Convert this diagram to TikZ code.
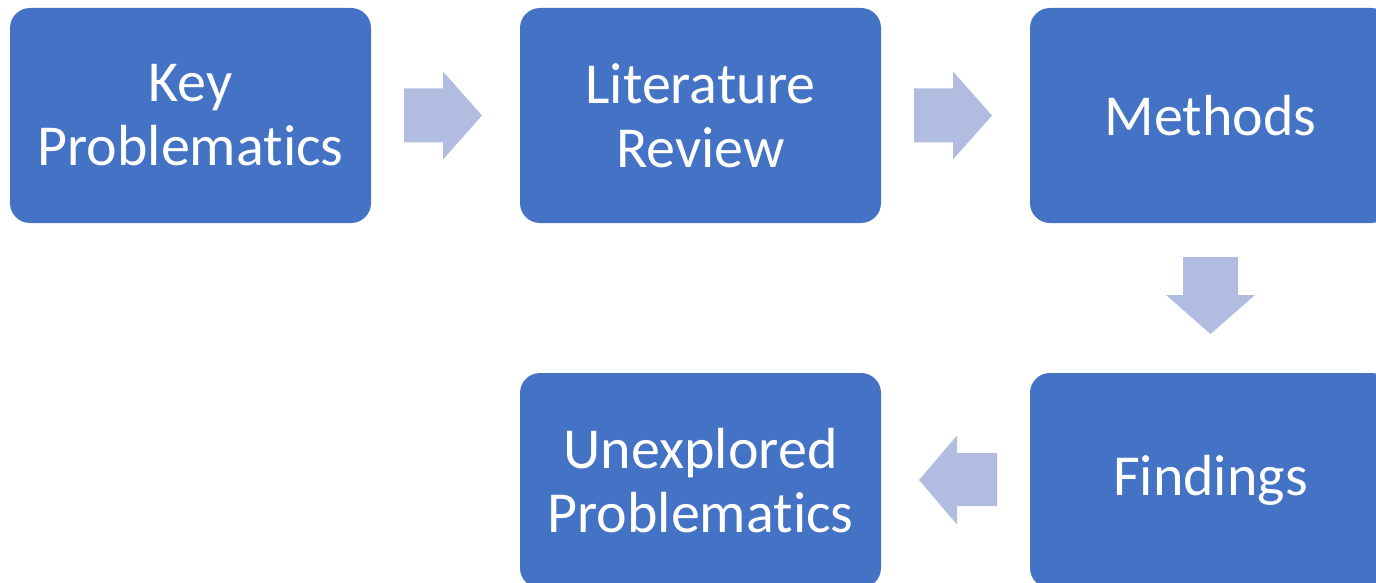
\documentclass[tikz,border=0pt]{standalone}
\usepackage{fontspec}
\setmainfont{Carlito}[Ligatures=NoCommon]
\definecolor{boxblue}{HTML}{4472C4}
\definecolor{arrowblue}{HTML}{B0BDE0}
\begin{document}
\begin{tikzpicture}[x=1pt,y=-1pt,
  stepbox/.style={fill=boxblue, draw=none, rounded corners=20pt, minimum width=361pt, minimum height=215pt,
    text=white, align=center, inner sep=0pt,
    font=\fontsize{58}{64}\selectfont},
  blockarrow/.style={fill=arrowblue, draw=none}]
\useasboundingbox (0,0) rectangle (1376,583);
\clip (0,0) rectangle (1376,583);
\node[stepbox] (key) at (190.5,115.5) {Key\\Problematics};
\node[stepbox] (lit) at (700.5,115.5) {Literature\\Review};
\node[stepbox] (meth) at (1210.5,115.5) {Methods};
\node[stepbox] (find) at (1210.5,480.5) {Findings};
\node[stepbox] (unex) at (700.5,480.5) {Unexplored\\Problematics};
% block arrows
\fill[blockarrow] (404,88.5) -- (443,88.5) -- (443,71.5) -- (482,115.5) -- (443,159.5) -- (443,142.5) -- (404,142.5) -- cycle;
\fill[blockarrow] (914,88.5) -- (953,88.5) -- (953,71.5) -- (992,115.5) -- (953,159.5) -- (953,142.5) -- (914,142.5) -- cycle;
\fill[blockarrow] (1183,257) -- (1238,257) -- (1238,295) -- (1255,295) -- (1210.5,334) -- (1166,295) -- (1183,295) -- cycle;
\fill[blockarrow] (997,453) -- (957,453) -- (957,435.5) -- (919,480) -- (957,524.5) -- (957,506) -- (997,506) -- cycle;
\end{tikzpicture}
\end{document}
